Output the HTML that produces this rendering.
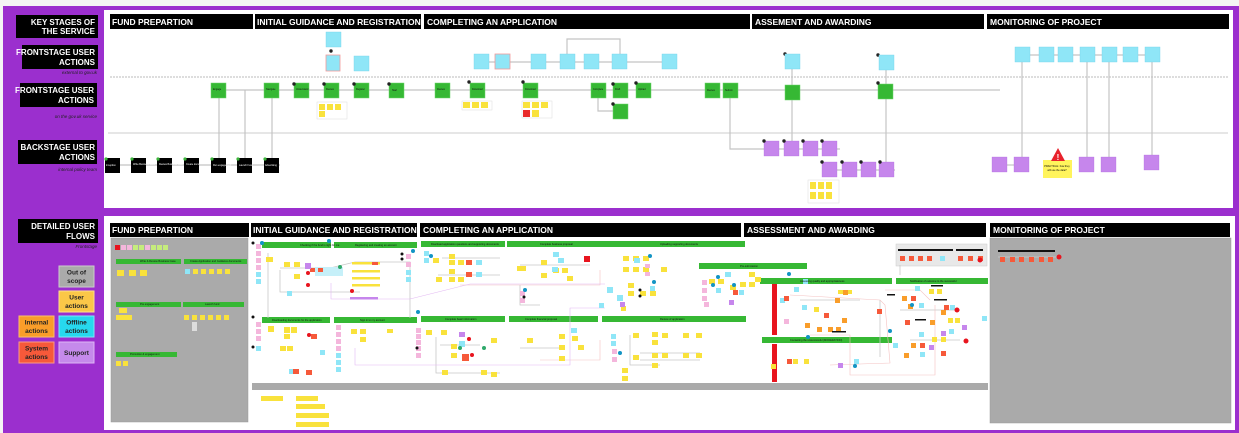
<!DOCTYPE html>
<html><head><meta charset="utf-8"><style>
html,body{margin:0;padding:0;background:#fff}
body{width:1239px;height:433px;overflow:hidden;font-family:"Liberation Sans",sans-serif}
svg{display:block}
.h{font-weight:bold;fill:#fff;font-size:8.5px}
.lh{font-weight:bold;fill:#fff;font-size:8px}
.cap{font-style:italic;font-size:4.5px;fill:#222}
.t{font-size:2.6px;fill:#111}
.lg{font-size:6.5px;font-weight:bold;fill:#222}
</style></head><body>
<svg width="1239" height="433" viewBox="0 0 1239 433" xmlns="http://www.w3.org/2000/svg">
<rect x="0" y="0" width="1239" height="433" fill="#f4f4f4"/>
<rect x="3" y="6" width="1236" height="427" fill="#9b2fce"/>
<rect x="104" y="10" width="1129" height="198" fill="#fff"/>
<rect x="104" y="216" width="1131" height="214" fill="#fff"/>

<!-- left labels top -->
<rect x="16" y="15" width="82" height="23" fill="#000"/>
<text class="lh" x="95" y="25" text-anchor="end">KEY STAGES OF</text>
<text class="lh" x="95" y="34" text-anchor="end">THE SERVICE</text>
<rect x="22" y="45" width="76" height="24" fill="#000"/>
<text class="lh" x="95" y="55" text-anchor="end">FRONTSTAGE USER</text>
<text class="lh" x="95" y="65" text-anchor="end">ACTIONS</text>
<text class="cap" x="97" y="74" text-anchor="end">external to gov.uk</text>
<rect x="20" y="83" width="77" height="24" fill="#000"/>
<text class="lh" x="94" y="93" text-anchor="end">FRONTSTAGE USER</text>
<text class="lh" x="94" y="103" text-anchor="end">ACTIONS</text>
<text class="cap" x="97" y="118" text-anchor="end">on the gov.uk service</text>
<rect x="18" y="140" width="79" height="24" fill="#000"/>
<text class="lh" x="95" y="150" text-anchor="end">BACKSTAGE USER</text>
<text class="lh" x="95" y="160" text-anchor="end">ACTIONS</text>
<text class="cap" x="97" y="171" text-anchor="end">internal policy team</text>

<!-- top stage headers -->
<rect x="110" y="14" width="143" height="15" fill="#000"/><text class="h" x="112" y="25">FUND PREPARTION</text>
<rect x="255" y="14" width="166" height="15" fill="#000"/><text class="h" x="257" y="25">INITIAL GUIDANCE AND REGISTRATION</text>
<rect x="424" y="14" width="326" height="15" fill="#000"/><text class="h" x="427" y="25">COMPLETING AN APPLICATION</text>
<rect x="752" y="14" width="232" height="15" fill="#000"/><text class="h" x="755" y="25">ASSEMENT AND AWARDING</text>
<rect x="987" y="14" width="242" height="15" fill="#000"/><text class="h" x="990" y="25">MONITORING OF PROJECT</text>

<line x1="110" y1="77" x2="1228" y2="77" stroke="#bbb" stroke-width="1" stroke-dasharray="2,1"/>
<line x1="108" y1="133" x2="1228" y2="133" stroke="#bbb" stroke-width="0.8"/>

<!-- connectors top -->
<g stroke="#c4c4c4" stroke-width="1.2" fill="none">
<line x1="218" y1="90" x2="1000" y2="90"/>
<line x1="219" y1="98" x2="219" y2="158"/>
<line x1="245" y1="90" x2="245" y2="158"/>
<line x1="272" y1="98" x2="272" y2="158"/>
<line x1="105" y1="165" x2="280" y2="165"/>
<polyline points="567,54 567,39 620,39 620,54"/>
<line x1="480" y1="62" x2="670" y2="62"/>
<polyline points="598,98 598,111 614,111"/>
<polyline points="730,98 730,149 764,149"/>
<line x1="764" y1="149" x2="840" y2="149"/>
<line x1="822" y1="170" x2="895" y2="170"/>
<line x1="792" y1="62" x2="792" y2="156"/>
<line x1="886" y1="62" x2="886" y2="170"/>
<line x1="1015" y1="55" x2="1155" y2="55"/>
<line x1="1022" y1="62" x2="1022" y2="157"/>
<line x1="1087" y1="62" x2="1087" y2="157"/>
<line x1="1109" y1="62" x2="1109" y2="157"/>
<line x1="1152" y1="62" x2="1152" y2="155"/>
<line x1="999" y1="165" x2="1014" y2="165"/>
</g>

<!-- black backstage nodes -->
<g fill="#000">
<rect x="105" y="158" width="15" height="15"/><rect x="131" y="158" width="15" height="15"/>
<rect x="157" y="158" width="15" height="15"/><rect x="184" y="158" width="15" height="15"/>
<rect x="211" y="158" width="15" height="15"/><rect x="237" y="158" width="15" height="15"/>
<rect x="264" y="158" width="15" height="15"/>
</g>
<g fill="#3bb53a"><circle cx="106" cy="159" r="1.6"/><circle cx="132" cy="159" r="1.6"/><circle cx="158" cy="159" r="1.6"/><circle cx="185" cy="159" r="1.6"/><circle cx="212" cy="159" r="1.6"/><circle cx="238" cy="159" r="1.6"/><circle cx="265" cy="159" r="1.6"/></g>
<g fill="#fff" font-size="2.4"><text x="106" y="166">Inception</text><text x="133" y="165">Write Business Case</text><text x="159" y="165">Review Business Case</text><text x="186" y="165">Create docs</text><text x="213" y="166">Run engagement</text><text x="239" y="166">Launch Fund</text><text x="265" y="166">Advertising</text></g>

<!-- green frontstage nodes -->
<g fill="#36b834" stroke="#6cd66a" stroke-width="0.5">
<rect x="211" y="83" width="15" height="15"/><rect x="264" y="83" width="15" height="15"/>
<rect x="294" y="83" width="15" height="15"/><rect x="324" y="83" width="15" height="15"/>
<rect x="354" y="83" width="15" height="15"/><rect x="389" y="83" width="15" height="15"/>
<rect x="435" y="83" width="15" height="15"/><rect x="470" y="83" width="15" height="15"/>
<rect x="523" y="83" width="15" height="15"/><rect x="591" y="83" width="15" height="15"/>
<rect x="613" y="83" width="15" height="15"/><rect x="636" y="83" width="15" height="15"/>
<rect x="613" y="104" width="15" height="15"/>
<rect x="705" y="83" width="15" height="15"/><rect x="723" y="83" width="15" height="15"/>
<rect x="785" y="85" width="15" height="15"/><rect x="878" y="84" width="15" height="15"/>
</g>
<g fill="#222"><circle cx="294" cy="84" r="1.7"/><circle cx="324" cy="84" r="1.7"/><circle cx="354" cy="84" r="1.7"/><circle cx="389" cy="84" r="1.7"/><circle cx="469" cy="82" r="1.7"/><circle cx="523" cy="82" r="1.7"/><circle cx="613" cy="84" r="1.7"/><circle cx="636" cy="83" r="1.7"/><circle cx="613" cy="104" r="1.7"/><circle cx="878" cy="83" r="1.7"/><circle cx="878" cy="55" r="1.7"/><circle cx="785" cy="54" r="1.7"/><circle cx="331" cy="51" r="1.7"/></g>
<g font-size="2.4" fill="#111"><text x="213" y="90">Engage</text><text x="266" y="90">Navigate</text><text x="296" y="90">Understand</text><text x="326" y="90">Review</text><text x="356" y="90">Register</text><text x="392" y="91">Start</text><text x="437" y="90">Review</text><text x="472" y="90">Download</text><text x="525" y="90">Download</text><text x="593" y="90">Complete</text><text x="615" y="90">Draft</text><text x="638" y="90">Upload</text><text x="707" y="91">Review</text><text x="725" y="91">Submit</text></g>

<!-- cyan nodes -->
<g fill="#8fe6f7" stroke="#74d3ea" stroke-width="0.4">
<rect x="326" y="32" width="15" height="15"/><rect x="326" y="55" width="14" height="16" stroke="#f29a9a" stroke-width="0.8"/><rect x="354" y="56" width="15" height="15"/>
<rect x="474" y="54" width="15" height="15"/><rect x="495" y="54" width="15" height="15" stroke="#f29a9a" stroke-width="0.8"/>
<rect x="531" y="54" width="15" height="15"/><rect x="560" y="54" width="15" height="15"/><rect x="584" y="54" width="15" height="15"/>
<rect x="612" y="54" width="15" height="15"/><rect x="662" y="54" width="15" height="15"/>
<rect x="785" y="54" width="15" height="15"/><rect x="879" y="55" width="15" height="15"/>
<rect x="1015" y="47" width="15" height="15"/><rect x="1039" y="47" width="15" height="15"/><rect x="1058" y="47" width="15" height="15"/>
<rect x="1080" y="47" width="15" height="15"/><rect x="1102" y="47" width="15" height="15"/><rect x="1123" y="47" width="15" height="15"/><rect x="1145" y="47" width="15" height="15"/>
</g>

<!-- purple backstage -->
<g fill="#c686ec" stroke="#b06adc" stroke-width="0.3">
<rect x="764" y="141" width="15" height="15"/><rect x="784" y="141" width="15" height="15"/><rect x="803" y="141" width="15" height="15"/><rect x="822" y="141" width="15" height="15"/>
<rect x="822" y="162" width="15" height="15"/><rect x="842" y="162" width="15" height="15"/><rect x="861" y="162" width="15" height="15"/><rect x="879" y="162" width="15" height="15"/>
<rect x="992" y="157" width="15" height="15"/><rect x="1014" y="157" width="15" height="15"/><rect x="1079" y="157" width="15" height="15"/><rect x="1101" y="157" width="15" height="15"/><rect x="1144" y="155" width="15" height="15"/>
</g>
<g fill="#222"><circle cx="764" cy="141" r="1.7"/><circle cx="784" cy="141" r="1.7"/><circle cx="803" cy="141" r="1.7"/><circle cx="822" cy="141" r="1.7"/><circle cx="822" cy="162" r="1.7"/><circle cx="842" cy="162" r="1.7"/><circle cx="861" cy="162" r="1.7"/><circle cx="880" cy="162" r="1.7"/></g>

<!-- yellow sticky groups -->
<g>
<rect x="317" y="102" width="30" height="17" fill="#fff" stroke="#ddd" stroke-width="0.5"/>
<rect x="319" y="104" width="6" height="6" fill="#f9e23c"/><rect x="327" y="104" width="6" height="6" fill="#f9e23c"/><rect x="335" y="104" width="6" height="6" fill="#f9e23c"/><rect x="319" y="111" width="6" height="6" fill="#f9e23c"/>
<rect x="462" y="101" width="30" height="9" fill="#fff" stroke="#ddd" stroke-width="0.5"/>
<rect x="463" y="102" width="7" height="6" fill="#f9e23c"/><rect x="472" y="102" width="7" height="6" fill="#f9e23c"/><rect x="481" y="102" width="7" height="6" fill="#f9e23c"/>
<rect x="522" y="101" width="30" height="17" fill="#fff" stroke="#ddd" stroke-width="0.5"/>
<rect x="523" y="102" width="7" height="6" fill="#f9e23c"/><rect x="532" y="102" width="7" height="6" fill="#f9e23c"/><rect x="541" y="102" width="7" height="6" fill="#f9e23c"/><rect x="523" y="110" width="7" height="7" fill="#e92a2a"/><rect x="532" y="110" width="7" height="7" fill="#f9e23c"/>
<rect x="808" y="180" width="31" height="23" fill="#fff" stroke="#ddd" stroke-width="0.5"/>
<rect x="810" y="182" width="6" height="7" fill="#f9e23c"/><rect x="818" y="182" width="6" height="7" fill="#f9e23c"/><rect x="826" y="182" width="6" height="7" fill="#f9e23c"/>
<rect x="810" y="192" width="6" height="7" fill="#f9e23c"/><rect x="818" y="192" width="6" height="7" fill="#f9e23c"/><rect x="826" y="192" width="6" height="7" fill="#f9e23c"/>
</g>
<rect x="1043" y="160" width="29" height="18" fill="#fff45c"/>
<text x="1057" y="167" font-size="2.5" text-anchor="middle">PRACTICAL: how they</text><text x="1057" y="171" font-size="2.5" text-anchor="middle">will use the data?</text>
<polygon points="1058,148 1051,161 1065,161" fill="#e8222c"/><text x="1058" y="160" font-size="8" fill="#fff" font-weight="bold" text-anchor="middle">!</text>

<!-- ===== BOTTOM ===== -->
<rect x="18" y="219" width="80" height="24" fill="#000"/>
<text class="lh" x="95" y="229" text-anchor="end">DETAILED USER</text>
<text class="lh" x="95" y="239" text-anchor="end">FLOWS</text>
<text class="cap" x="97" y="248" text-anchor="end">Frontstage</text>

<rect x="59" y="266" width="35" height="21" fill="#aaa" stroke="#ccc"/><text class="lg" x="76.5" y="274.5" text-anchor="middle">Out of</text><text class="lg" x="76.5" y="283" text-anchor="middle">scope</text>
<rect x="59" y="291" width="35" height="21" fill="#fbc748" stroke="#fde08d"/><text class="lg" x="76.5" y="299.5" text-anchor="middle">User</text><text class="lg" x="76.5" y="308" text-anchor="middle">actions</text>
<rect x="19" y="316" width="35" height="21" fill="#f99d2a" stroke="#fbbf6a"/><text class="lg" x="36.5" y="324.5" text-anchor="middle">Internal</text><text class="lg" x="36.5" y="333" text-anchor="middle">actions</text>
<rect x="59" y="316" width="35" height="21" fill="#27d8ee" stroke="#7ce9f5"/><text class="lg" x="76.5" y="324.5" text-anchor="middle">Offline</text><text class="lg" x="76.5" y="333" text-anchor="middle">actions</text>
<rect x="19" y="342" width="35" height="21" fill="#f6593a" stroke="#f99b86"/><text class="lg" x="36.5" y="350.5" text-anchor="middle">System</text><text class="lg" x="36.5" y="359" text-anchor="middle">actions</text>
<rect x="59" y="342" width="35" height="21" fill="#c58aeb" stroke="#ddb6f5"/><text class="lg" x="76.5" y="355" text-anchor="middle">Support</text>

<rect x="110" y="223" width="139" height="14" fill="#000"/><text class="h" x="112" y="233">FUND PREPARTION</text>
<rect x="251" y="223" width="166" height="14" fill="#000"/><text class="h" x="253" y="233">INITIAL GUIDANCE AND REGISTRATION</text>
<rect x="420" y="223" width="321" height="14" fill="#000"/><text class="h" x="423" y="233">COMPLETING AN APPLICATION</text>
<rect x="744" y="223" width="242" height="14" fill="#000"/><text class="h" x="747" y="233">ASSESSMENT AND AWARDING</text>
<rect x="990" y="223" width="240" height="14" fill="#000"/><text class="h" x="993" y="233">MONITORING OF PROJECT</text>

<rect x="111" y="238" width="137" height="184" fill="#aaa" stroke="#999" stroke-width="0.5"/>
<rect x="990" y="238" width="241" height="185" fill="#aaa" stroke="#999" stroke-width="0.5"/>
<rect x="252" y="383" width="736" height="7" fill="#aaa"/>

<!-- green bars -->
<g fill="#36b834">
<rect x="116" y="259" width="65" height="5"/><rect x="184" y="259" width="63" height="5"/>
<rect x="116" y="302" width="65" height="5"/><rect x="183" y="302" width="61" height="5"/>
<rect x="116" y="352" width="61" height="5"/>
<rect x="262" y="242" width="69" height="6"/><rect x="334" y="242" width="83" height="6"/>
<rect x="262" y="317" width="68" height="6"/><rect x="334" y="317" width="83" height="6"/>
<rect x="421" y="241" width="84" height="6"/><rect x="507" y="241" width="98" height="6"/><rect x="603" y="241" width="142" height="6"/>
<rect x="699" y="263" width="108" height="6"/>
<rect x="421" y="316" width="84" height="6"/><rect x="509" y="316" width="89" height="6"/><rect x="602" y="316" width="144" height="6"/>
<rect x="760" y="278" width="132" height="6"/><rect x="896" y="278" width="92" height="6"/>
<rect x="762" y="337" width="130" height="6"/>
</g>
<rect x="772" y="284" width="5" height="51" fill="#e8141e"/><rect x="772" y="344" width="5" height="38" fill="#e8141e"/>
<rect x="896" y="244" width="91" height="22" fill="#e8e8e8" stroke="#ccc" stroke-width="0.5"/>

<!-- fund prep stickies -->
<g>
<rect x="115" y="245" width="5" height="5" fill="#e8141e"/>
<rect x="121" y="245" width="5" height="5" fill="#f4b6dc"/><rect x="127" y="245" width="5" height="5" fill="#f4b6dc"/><rect x="133" y="245" width="5" height="5" fill="#c5ec7c"/><rect x="139" y="245" width="5" height="5" fill="#c5ec7c"/><rect x="145" y="245" width="5" height="5" fill="#f4b6dc"/><rect x="151" y="245" width="5" height="5" fill="#c5ec7c"/><rect x="157" y="245" width="5" height="5" fill="#c5ec7c"/><rect x="163" y="245" width="5" height="5" fill="#c5ec7c"/>
<rect x="117" y="270" width="7" height="6" fill="#f9e23c"/><rect x="129" y="270" width="7" height="6" fill="#f9e23c"/><rect x="140" y="270" width="7" height="6" fill="#f9e23c"/>
<rect x="185" y="269" width="5" height="5" fill="#8fe6f7"/><rect x="193" y="269" width="5" height="5" fill="#f9e23c"/><rect x="201" y="269" width="5" height="5" fill="#f9e23c"/><rect x="209" y="269" width="5" height="5" fill="#f9e23c"/><rect x="217" y="269" width="5" height="5" fill="#f9e23c"/><rect x="225" y="269" width="5" height="5" fill="#f9e23c"/>
<rect x="119" y="308" width="8" height="5" fill="#f9e23c"/><rect x="116" y="315" width="16" height="5" fill="#f9e23c"/>
<rect x="184" y="315" width="5" height="5" fill="#f9e23c"/><rect x="192" y="315" width="5" height="5" fill="#f9e23c"/><rect x="200" y="315" width="5" height="5" fill="#f9e23c"/><rect x="208" y="315" width="5" height="5" fill="#f9e23c"/><rect x="216" y="315" width="5" height="5" fill="#f9e23c"/><rect x="224" y="315" width="5" height="5" fill="#f9e23c"/>
<rect x="192" y="322" width="5" height="9" fill="#ddd"/>
<rect x="116" y="361" width="5" height="5" fill="#f9e23c"/><rect x="123" y="361" width="5" height="5" fill="#f9e23c"/>
</g>

<!-- generic flow lines bottom -->
<g stroke="#c8c8c8" stroke-width="0.8" fill="none">
<polyline points="268,253 268,318"/><polyline points="280,268 330,268 355,262 410,262 410,318"/>
<polyline points="280,270 280,292 360,292"/><line x1="442" y1="258" x2="500" y2="258"/>
<polyline points="438,275 500,275"/><polyline points="520,265 590,265"/><polyline points="520,285 520,305 540,305"/>
<polyline points="440,345 480,345"/><polyline points="436,337 436,373 500,373"/>
<polyline points="520,348 560,348"/><polyline points="630,335 630,365 660,365"/>
<polyline points="640,353 700,353"/><polyline points="640,360 700,360"/>
<polyline points="800,300 860,300"/><polyline points="880,300 880,357"/>
<polyline points="900,310 960,310"/><polyline points="910,340 960,340"/><polyline points="900,265 900,275"/>
<line x1="998" y1="257" x2="1060" y2="257"/>
</g>
<g stroke="#f4c2c2" stroke-width="0.6" fill="none">
<polyline points="790,295 880,300 885,305 890,363 830,365"/>
<polyline points="810,335 850,335 850,375 935,375 935,305"/>
<polyline points="885,290 920,290 930,300"/>
<polyline points="460,285 600,285 600,270"/>
<polyline points="540,360 600,360 600,340"/>
</g>
<g stroke="#e3b8f3" stroke-width="0.6" fill="none"><polyline points="331,283 331,299 410,299 470,284 605,284"/><polyline points="355,348 355,365 570,365 570,308 605,308"/></g>

<!-- bottom nodes: yellow -->
<g fill="#f9e23c">
<rect x="266" y="257" width="7" height="5"/><rect x="284" y="262" width="6" height="5"/><rect x="294" y="262" width="6" height="5"/><rect x="294" y="274" width="6" height="5"/>
<rect x="352" y="262" width="28" height="2.5"/><rect x="352" y="270" width="28" height="2.5"/><rect x="352" y="277" width="28" height="2.5"/><rect x="352" y="284" width="28" height="2.5"/>
<rect x="268" y="326" width="6" height="6"/><rect x="284" y="327" width="6" height="6"/><rect x="291" y="327" width="6" height="6"/><rect x="284" y="334" width="6" height="5"/>
<rect x="280" y="346" width="6" height="5"/><rect x="287" y="346" width="6" height="5"/>
<rect x="351" y="329" width="6" height="5"/><rect x="360" y="329" width="6" height="5"/><rect x="360" y="337" width="6" height="5"/><rect x="387" y="329" width="6" height="4"/>
<rect x="433" y="258" width="6" height="5"/><rect x="436" y="277" width="6" height="5"/><rect x="449" y="254" width="6" height="5"/><rect x="449" y="260" width="6" height="5"/><rect x="449" y="269" width="6" height="5"/><rect x="458" y="260" width="6" height="5"/><rect x="458" y="277" width="6" height="5"/><rect x="449" y="277" width="6" height="5"/>
<rect x="517" y="266" width="9" height="5"/><rect x="541" y="260" width="6" height="5"/><rect x="541" y="273" width="6" height="5"/><rect x="553" y="268" width="6" height="5"/><rect x="562" y="268" width="6" height="5"/><rect x="567" y="276" width="6" height="5"/>
<rect x="623" y="256" width="6" height="5"/><rect x="633" y="256" width="6" height="5"/><rect x="643" y="256" width="6" height="5"/><rect x="623" y="267" width="6" height="5"/><rect x="633" y="267" width="6" height="5"/><rect x="643" y="267" width="6" height="5"/><rect x="661" y="267" width="6" height="5"/>
<rect x="621" y="306" width="5" height="5"/><rect x="628" y="283" width="6" height="5"/><rect x="628" y="291" width="6" height="5"/><rect x="640" y="291" width="6" height="5"/><rect x="650" y="291" width="6" height="5"/>
<rect x="426" y="330" width="6" height="5"/><rect x="441" y="330" width="6" height="5"/><rect x="451" y="344" width="6" height="5"/><rect x="451" y="353" width="6" height="5"/><rect x="491" y="338" width="6" height="5"/><rect x="442" y="370" width="6" height="5"/><rect x="481" y="370" width="6" height="5"/><rect x="491" y="372" width="6" height="5"/>
<rect x="527" y="338" width="6" height="5"/><rect x="559" y="334" width="6" height="5"/><rect x="572" y="336" width="6" height="5"/><rect x="559" y="345" width="6" height="5"/><rect x="559" y="356" width="6" height="5"/><rect x="578" y="345" width="6" height="5"/>
<rect x="633" y="333" width="6" height="5"/><rect x="652" y="332" width="6" height="5"/><rect x="662" y="333" width="6" height="5"/><rect x="683" y="333" width="6" height="5"/><rect x="696" y="333" width="6" height="5"/><rect x="652" y="340" width="6" height="5"/>
<rect x="633" y="355" width="6" height="5"/><rect x="652" y="353" width="6" height="5"/><rect x="662" y="353" width="6" height="5"/><rect x="683" y="353" width="6" height="5"/><rect x="696" y="353" width="6" height="5"/><rect x="652" y="363" width="6" height="5"/><rect x="622" y="368" width="6" height="5"/><rect x="622" y="376" width="6" height="5"/>
<rect x="709" y="279" width="6" height="5"/><rect x="718" y="279" width="6" height="5"/><rect x="730" y="285" width="6" height="5"/><rect x="740" y="282" width="6" height="5"/><rect x="749" y="272" width="6" height="5"/><rect x="749" y="282" width="6" height="5"/><rect x="755" y="277" width="6" height="5"/>
<rect x="838" y="290" width="5" height="4"/><rect x="847" y="290" width="5" height="4"/><rect x="814" y="307" width="5" height="5"/><rect x="771" y="364" width="5" height="5"/><rect x="793" y="359" width="5" height="5"/><rect x="804" y="359" width="5" height="5"/>
<rect x="929" y="289" width="5" height="5"/><rect x="937" y="289" width="5" height="5"/><rect x="948" y="318" width="5" height="5"/><rect x="955" y="318" width="5" height="5"/><rect x="932" y="337" width="5" height="5"/><rect x="941" y="337" width="5" height="5"/>
<rect x="261" y="396" width="22" height="5"/><rect x="296" y="396" width="22" height="5"/><rect x="296" y="404" width="29" height="5"/><rect x="296" y="413" width="33" height="5"/><rect x="296" y="422" width="33" height="5"/>
</g>
<!-- pink -->
<g fill="#f4b6dc">
<rect x="256" y="244" width="5" height="5"/><rect x="256" y="251" width="5" height="5"/><rect x="256" y="258" width="5" height="5"/><rect x="256" y="265" width="5" height="5"/>
<rect x="256" y="322" width="5" height="5"/><rect x="256" y="329" width="5" height="5"/><rect x="256" y="336" width="5" height="5"/>
<rect x="336" y="325" width="5" height="5"/><rect x="336" y="332" width="5" height="5"/><rect x="336" y="339" width="5" height="5"/><rect x="336" y="346" width="5" height="5"/>
<rect x="406" y="254" width="5" height="5"/><rect x="406" y="262" width="5" height="5"/>
<rect x="416" y="328" width="5" height="5"/><rect x="416" y="334" width="5" height="5"/><rect x="416" y="340" width="5" height="5"/><rect x="416" y="346" width="5" height="5"/><rect x="416" y="353" width="5" height="5"/>
<rect x="520" y="291" width="5" height="5"/><rect x="520" y="298" width="5" height="5"/><rect x="645" y="264" width="5" height="4"/><rect x="645" y="272" width="5" height="4"/>
<rect x="702" y="280" width="5" height="5"/><rect x="702" y="288" width="5" height="5"/><rect x="702" y="296" width="5" height="5"/><rect x="612" y="349" width="5" height="5"/><rect x="612" y="357" width="5" height="5"/>
<rect x="704" y="302" width="5" height="5"/><rect x="784" y="319" width="5" height="5"/>
</g>
<!-- cyan -->
<g fill="#8fe6f7">
<rect x="256" y="272" width="5" height="5"/><rect x="256" y="279" width="5" height="5"/><rect x="287" y="291" width="5" height="5"/>
<rect x="256" y="346" width="5" height="5"/><rect x="320" y="350" width="5" height="5"/><rect x="289" y="369" width="5" height="5"/>
<rect x="336" y="353" width="5" height="5"/><rect x="336" y="360" width="5" height="5"/><rect x="336" y="367" width="5" height="5"/>
<rect x="406" y="270" width="5" height="5"/><rect x="406" y="277" width="5" height="5"/>
<rect x="315" y="267" width="28" height="9" fill="#c6f0f9"/>
<rect x="424" y="251" width="5" height="5"/><rect x="424" y="258" width="5" height="5"/><rect x="476" y="260" width="6" height="5"/><rect x="476" y="272" width="6" height="5"/>
<rect x="553" y="252" width="6" height="5"/><rect x="558" y="258" width="6" height="5"/><rect x="552" y="267" width="6" height="5"/>
<rect x="607" y="287" width="6" height="6"/><rect x="617" y="295" width="6" height="6"/><rect x="634" y="258" width="6" height="5"/>
<rect x="599" y="303" width="5" height="5"/><rect x="650" y="286" width="5" height="5"/>
<rect x="571" y="328" width="6" height="5"/><rect x="459" y="341" width="6" height="6"/><rect x="611" y="334" width="5" height="5"/><rect x="611" y="341" width="5" height="5"/>
<rect x="716" y="288" width="5" height="5"/><rect x="725" y="272" width="6" height="5"/><rect x="739" y="290" width="5" height="5"/>
<rect x="780" y="298" width="5" height="5"/><rect x="794" y="287" width="5" height="5"/><rect x="802" y="305" width="5" height="5"/><rect x="803" y="279" width="5" height="5"/>
<rect x="940" y="256" width="5" height="5"/><rect x="915" y="286" width="5" height="5"/><rect x="919" y="303" width="5" height="5"/><rect x="950" y="305" width="5" height="5"/><rect x="949" y="329" width="5" height="5"/><rect x="982" y="316" width="5" height="5"/><rect x="919" y="332" width="5" height="5"/><rect x="854" y="359" width="5" height="5"/><rect x="893" y="343" width="5" height="5"/><rect x="920" y="352" width="5" height="5"/>
</g>
<!-- red / orange -->
<g fill="#f6593a">
<rect x="310" y="268" width="5" height="4"/><rect x="318" y="268" width="5" height="4"/><rect x="372" y="262" width="6" height="3"/>
<rect x="311" y="334" width="6" height="5"/><rect x="293" y="369" width="6" height="5"/><rect x="306" y="370" width="6" height="5"/>
<rect x="466" y="260" width="6" height="5"/><rect x="466" y="272" width="6" height="5"/>
<rect x="462" y="354" width="7" height="7"/><rect x="584" y="256" width="6" height="6" fill="#e8141e"/>
<rect x="733" y="290" width="5" height="5"/><rect x="784" y="296" width="5" height="5"/><rect x="824" y="313" width="5" height="5"/><rect x="877" y="309" width="5" height="5"/>
<rect x="900" y="256" width="5" height="5"/><rect x="909" y="256" width="5" height="5"/><rect x="918" y="256" width="5" height="5"/><rect x="927" y="256" width="5" height="5"/><rect x="958" y="256" width="5" height="5"/><rect x="968" y="256" width="5" height="5"/><rect x="978" y="256" width="5" height="5"/>
<rect x="1000" y="257" width="5" height="5"/><rect x="1010" y="257" width="5" height="5"/><rect x="1019" y="257" width="5" height="5"/><rect x="1029" y="257" width="5" height="5"/><rect x="1039" y="257" width="5" height="5"/><rect x="1048" y="257" width="5" height="5"/>
<rect x="905" y="320" width="5" height="5"/><rect x="911" y="296" width="5" height="5"/><rect x="920" y="343" width="5" height="5"/><rect x="941" y="351" width="5" height="5"/><rect x="944" y="305" width="5" height="5"/>
<rect x="787" y="359" width="5" height="5"/>
</g>
<g fill="#f99d2a">
<rect x="842" y="318" width="5" height="5"/><rect x="805" y="323" width="5" height="5"/><rect x="843" y="290" width="5" height="5"/><rect x="835" y="298" width="5" height="5"/><rect x="828" y="327" width="5" height="5"/><rect x="836" y="327" width="5" height="5"/><rect x="817" y="327" width="5" height="5"/>
<rect x="902" y="296" width="5" height="5"/><rect x="908" y="304" width="5" height="5"/><rect x="930" y="320" width="5" height="5"/><rect x="941" y="310" width="5" height="5"/><rect x="911" y="343" width="5" height="5"/><rect x="904" y="353" width="5" height="5"/>
</g>
<!-- purple small -->
<g fill="#c686ec">
<rect x="305" y="263" width="6" height="6"/><rect x="350" y="297" width="28" height="2.5"/><rect x="459" y="332" width="6" height="5"/><rect x="620" y="302" width="5" height="5"/><rect x="729" y="300" width="5" height="5"/><rect x="838" y="363" width="5" height="5"/><rect x="941" y="331" width="5" height="5"/><rect x="962" y="325" width="5" height="5"/><rect x="929" y="345" width="5" height="5"/>
</g>
<!-- dots -->
<g fill="#e8141e"><circle cx="308" cy="273" r="2"/><circle cx="308" cy="285" r="2"/><circle cx="352" cy="291" r="2"/><circle cx="309" cy="335" r="2"/><circle cx="469" cy="339" r="2"/><circle cx="472" cy="355" r="2"/><circle cx="1059" cy="257" r="2.5"/><circle cx="980" cy="260" r="2.5"/><circle cx="957" cy="310" r="2.5"/><circle cx="966" cy="341" r="2.5"/></g>
<g fill="#2fa96b"><circle cx="340" cy="267" r="2"/><circle cx="460" cy="348" r="2"/><circle cx="484" cy="348" r="2"/></g>
<g fill="#1294c4"><circle cx="262" cy="243" r="2"/><circle cx="329" cy="241" r="2"/><circle cx="413" cy="251" r="2"/><circle cx="418" cy="312" r="2"/><circle cx="431" cy="256" r="2"/><circle cx="525" cy="290" r="2"/><circle cx="650" cy="256" r="2"/><circle cx="654" cy="282" r="2"/><circle cx="620" cy="353" r="2"/><circle cx="718" cy="277" r="2"/><circle cx="713" cy="285" r="2"/><circle cx="734" cy="285" r="2"/><circle cx="789" cy="274" r="2"/><circle cx="808" cy="337" r="2"/><circle cx="855" cy="366" r="2"/><circle cx="912" cy="305" r="2"/><circle cx="890" cy="331" r="2"/></g>
<g fill="#111"><circle cx="253" cy="243" r="1.5"/><circle cx="253" cy="317" r="1.5"/><circle cx="253" cy="347" r="1.5"/><circle cx="402" cy="254" r="1.5"/><circle cx="402" cy="259" r="1.5"/><circle cx="417" cy="348" r="1.5"/><circle cx="524" cy="297" r="1.5"/><circle cx="640" cy="290" r="1.5"/><circle cx="640" cy="296" r="1.5"/></g>
<g fill="#111"><rect x="998" y="250" width="57" height="2"/><rect x="898" y="249" width="55" height="2"/><rect x="956" y="249" width="27" height="2"/><rect x="934" y="299" width="13" height="1.5"/><rect x="915" y="319" width="11" height="1.5"/><rect x="832" y="331" width="14" height="1.5"/><rect x="931" y="285" width="12" height="1.5"/><rect x="887" y="294" width="8" height="1.5"/></g>

<!-- small text hints -->
<text class="t" x="300" y="246">Checking if the fund is right for me</text>
<text class="t" x="355" y="246">Registering and creating an account</text>
<text class="t" x="272" y="321">Downloading documents for the application</text>
<text class="t" x="360" y="321">Sign in to my account</text>
<text class="t" x="140" y="262">Write &amp; Review Business Case</text>
<text class="t" x="190" y="262">Create Application and Guidance documents</text>
<text class="t" x="140" y="305">Pre engagement</text><text class="t" x="205" y="305">Launch fund</text><text class="t" x="130" y="355">Promotion &amp; engagement</text>
<text class="t" x="431" y="245">Download application questions and supporting documents</text>
<text class="t" x="540" y="245">Complete business proposal</text><text class="t" x="660" y="245">Uploading supporting documents</text>
<text class="t" x="740" y="267">Pre-submission</text>
<text class="t" x="445" y="320">Complete basic information</text><text class="t" x="525" y="320">Complete financial proposal</text><text class="t" x="660" y="320">Review of application</text>
<text class="t" x="800" y="282">Assessing quality and appropriateness</text><text class="t" x="910" y="282">Notification of outcome to the successful</text>
<text class="t" x="790" y="341">Contacting the unsuccessful (MODERATION)</text>
</svg>
</body></html>
